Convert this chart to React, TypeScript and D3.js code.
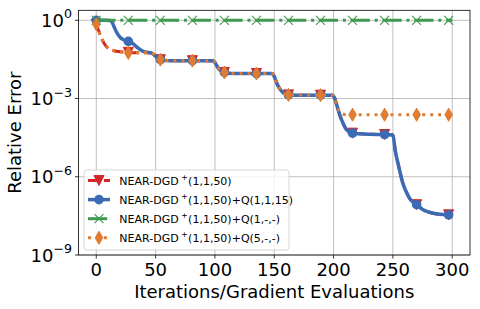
import React, { useEffect, useRef } from 'react';
import * as d3 from 'd3';

// shared x grid (iterations / gradient evaluations)
const iterations = [
  0, 2, 5, 8, 11, 13, 15, 17, 20, 23, 27, 31, 35, 40, 45, 47, 49, 51, 54, 58,
  65, 81, 98, 100, 102, 104, 108, 115, 135, 148, 150, 152, 155, 158, 162, 175,
  189, 199, 201, 203, 205, 208, 211, 216, 230, 243, 250, 252, 255, 258, 261,
  264, 267, 270, 275, 280, 285, 290, 297, 300,
];

const markerIters = [0, 27, 54, 81, 108, 135, 162, 189, 216, 243, 270, 297];

const nearBase = [
  0.708, 0.398, 0.178, 0.105, 0.0794, 0.0724, 0.0676, 0.0646, 0.0617, 0.0603,
  0.0589, 0.0575, 0.0575, 0.0575, 0.0575, 0.0537, 0.0457, 0.0372, 0.0309, 0.0288,
  0.0282, 0.0282, 0.0282, 0.024, 0.0166, 0.0126, 0.01, 0.00912, 0.00912, 0.00912,
  0.00708, 0.00398, 0.00224, 0.00158, 0.00138, 0.00135, 0.00135, 0.00135, 1.0e-3,
  5.0e-4, 2.5e-4, 1.12e-4, 6.3e-5, 4.7e-5, 4.27e-5, 4.17e-5, 3.98e-5, 1.0e-5,
  2.4e-6, 6.5e-7, 2.8e-7, 1.5e-7, 1.05e-7, 8.5e-8, 5.6e-8, 4.47e-8, 3.89e-8,
  3.63e-8, 3.47e-8, 3.47e-8,
];

const nearQ1115 = [
  1.0, 1.0, 1.0, 1.0, 0.977, 0.891, 0.562, 0.355, 0.224, 0.178,
  0.155, 0.126, 0.0871, 0.0631, 0.0575, 0.0537, 0.0457, 0.0372, 0.0309, 0.0288,
  0.0282, 0.0282, 0.0282, 0.024, 0.0166, 0.0126, 0.01, 0.00912, 0.00912, 0.00912,
  0.00708, 0.00398, 0.00224, 0.00158, 0.00138, 0.00135, 0.00135, 0.00135, 1.0e-3,
  5.0e-4, 2.5e-4, 1.12e-4, 6.3e-5, 4.7e-5, 4.27e-5, 4.17e-5, 3.98e-5, 1.0e-5,
  2.4e-6, 6.5e-7, 2.8e-7, 1.5e-7, 1.05e-7, 8.5e-8, 5.6e-8, 4.47e-8, 3.89e-8,
  3.63e-8, 3.47e-8, 3.47e-8,
];

const nearQ1 = [
  1.0, 1.0, 1.0, 1.0, 1.0, 1.0, 1.0, 1.0, 1.0, 1.0,
  1.0, 1.0, 1.0, 1.0, 1.0, 1.0, 1.0, 1.0, 1.0, 1.0,
  1.0, 1.0, 1.0, 1.0, 1.0, 1.0, 1.0, 1.0, 1.0, 1.0,
  1.0, 1.0, 1.0, 1.0, 1.0, 1.0, 1.0, 1.0, 1.0, 1.0,
  1.0, 1.0, 1.0, 1.0, 1.0, 1.0, 1.0, 1.0, 1.0, 1.0,
  1.0, 1.0, 1.0, 1.0, 1.0, 1.0, 1.0, 1.0, 1.0, 1.0,
];

const nearQ5 = [
  0.708, 0.398, 0.178, 0.105, 0.0794, 0.0724, 0.0676, 0.0646, 0.0617, 0.0603,
  0.0562, 0.0575, 0.0575, 0.0575, 0.0575, 0.0537, 0.0457, 0.0372, 0.0309, 0.0288,
  0.0282, 0.0282, 0.0282, 0.024, 0.0166, 0.0126, 0.01, 0.00912, 0.00912, 0.00912,
  0.00708, 0.00398, 0.00224, 0.00158, 0.00138, 0.00135, 0.00135, 0.00135, 1.0e-3,
  5.0e-4, 3.16e-4, 2.5e-4, 2.4e-4, 2.4e-4, 2.4e-4, 2.4e-4, 2.4e-4, 2.4e-4,
  2.4e-4, 2.4e-4, 2.4e-4, 2.4e-4, 2.4e-4, 2.4e-4, 2.4e-4, 2.4e-4, 2.4e-4,
  2.4e-4, 2.4e-4, 2.4e-4,
];

const legendLabels = ['(1,1,50)', '(1,1,50)+Q(1,1,15)', '(1,1,50)+Q(1,-,-)', '(1,1,50)+Q(5,-,-)'];
const xTicks = [0, 50, 100, 150, 200, 250, 300];
const yTickExps = [0, -3, -6, -9];

const series = [
  { values: nearBase, color: '#d62728', dash: '11.1,4.8', width: 3, marker: 'v' },
  { values: nearQ1115, color: '#3a6bb4', dash: null, width: 3.5, marker: 'o' },
  { values: nearQ1, color: '#3e9a4e', dash: '19.2,4.8,3,4.8', width: 3, marker: 'x' },
  { values: nearQ5, color: '#e07b2f', dash: '3,4.95', width: 3, marker: 'd' },
];

const W = 480;
const H = 309;
const FONT = 'DejaVu Sans, sans-serif';

function drawMarker(g, kind, cx, cy, color) {
  if (kind === 'o') {
    g.append('circle').attr('cx', cx).attr('cy', cy).attr('r', 4.8).attr('fill', color);
  } else if (kind === 'v') {
    const s = 5;
    g.append('path')
      .attr('d', `M${cx - s},${cy - s}L${cx + s},${cy - s}L${cx},${cy + s}Z`)
      .attr('fill', color).attr('stroke', color).attr('stroke-width', 1);
  } else if (kind === 'd') {
    const hw = 3.8, hh = 6.5;
    g.append('path')
      .attr('d', `M${cx},${cy - hh}L${cx + hw},${cy}L${cx},${cy + hh}L${cx - hw},${cy}Z`)
      .attr('fill', color).attr('stroke', color).attr('stroke-width', 1);
  } else {
    const s = 4.5;
    g.append('path')
      .attr('d', `M${cx - s},${cy - s}L${cx + s},${cy + s}M${cx - s},${cy + s}L${cx + s},${cy - s}`)
      .attr('fill', 'none').attr('stroke', color).attr('stroke-width', 1.1);
  }
}

export default function App() {
  const ref = useRef(null);

  useEffect(() => {
    const svg = d3.select(ref.current);
    svg.selectAll('*').remove();

    const left = 78.5, right = 470, top = 10.3, bottom = 255;

    const x = d3.scaleLinear().domain([-15, 315]).range([left, right]);
    const y = d3.scaleLog().domain([1e-9, 2.415]).range([bottom, top]);

    svg.append('rect').attr('width', W).attr('height', H).attr('fill', '#fff');

    // grid
    const grid = svg.append('g').attr('stroke', '#b0b0b0').attr('stroke-width', 0.8);
    xTicks.forEach(t => {
      grid.append('line').attr('x1', x(t)).attr('x2', x(t)).attr('y1', top).attr('y2', bottom);
    });
    yTickExps.forEach(e => {
      grid.append('line').attr('x1', left).attr('x2', right).attr('y1', y(10 ** e)).attr('y2', y(10 ** e));
    });

    const plot = svg.append('g');

    const line = d3.line()
      .x(d => x(d[0]))
      .y(d => y(d[1]))
      .curve(d3.curveMonotoneX);

    series.forEach(s => {
      const pts = iterations.map((it, i) => [it, s.values[i]]);
      const g = plot.append('g');
      g.append('path')
        .datum(pts)
        .attr('fill', 'none')
        .attr('stroke', s.color)
        .attr('stroke-width', s.width)
        .attr('stroke-dasharray', s.dash)
        .attr('stroke-linejoin', 'round')
        .attr('d', line);
      pts.filter(p => markerIters.includes(p[0])).forEach(p => {
        drawMarker(g, s.marker, x(p[0]), y(p[1]), s.color);
      });
    });

    // spines
    svg.append('rect')
      .attr('x', left).attr('y', top).attr('width', right - left).attr('height', bottom - top)
      .attr('fill', 'none').attr('stroke', '#000').attr('stroke-width', 0.8);

    // x ticks
    xTicks.forEach(t => {
      svg.append('line').attr('x1', x(t)).attr('x2', x(t)).attr('y1', bottom).attr('y2', bottom + 3.5)
        .attr('stroke', '#000').attr('stroke-width', 0.8);
      svg.append('text').attr('x', x(t)).attr('y', 276)
        .attr('text-anchor', 'middle').attr('font-family', FONT).attr('font-size', 18).attr('fill', '#000')
        .text(t);
    });

    // y ticks
    yTickExps.forEach(e => {
      const ty = y(10 ** e);
      svg.append('line').attr('x1', left - 3.5).attr('x2', left).attr('y1', ty).attr('y2', ty)
        .attr('stroke', '#000').attr('stroke-width', 0.8);
      const txt = svg.append('text').attr('x', 72).attr('y', ty + 6.5)
        .attr('text-anchor', 'end').attr('font-family', FONT).attr('font-size', 18).attr('fill', '#000');
      txt.append('tspan').text('10');
      txt.append('tspan').attr('dy', -8.5).attr('font-size', 12.6)
        .text(e === 0 ? '0' : `\u2212${-e}`);
    });

    // axis labels
    svg.append('text').attr('x', (left + right) / 2).attr('y', 298)
      .attr('text-anchor', 'middle').attr('font-family', FONT).attr('font-size', 18).attr('fill', '#000')
      .text('Iterations/Gradient Evaluations');
    svg.append('text')
      .attr('transform', `translate(21,${(top + bottom) / 2}) rotate(-90)`)
      .attr('text-anchor', 'middle').attr('font-family', FONT).attr('font-size', 18).attr('fill', '#000')
      .text('Relative Error');

    // legend
    const lg = svg.append('g');
    lg.append('rect').attr('x', 84).attr('y', 170).attr('width', 205).attr('height', 80).attr('rx', 3)
      .attr('fill', '#fff').attr('fill-opacity', 0.8).attr('stroke', '#cccccc').attr('stroke-width', 0.8);
    series.forEach((s, i) => {
      const ly = 180.5 + i * 19.1;
      lg.append('line').attr('x1', 88).attr('x2', 110).attr('y1', ly).attr('y2', ly)
        .attr('stroke', s.color).attr('stroke-width', s.width).attr('stroke-dasharray', s.dash);
      drawMarker(lg, s.marker, 99, ly, s.color);
      const t = lg.append('text').attr('x', 119.3).attr('y', ly + 4)
        .attr('font-family', FONT).attr('font-size', 11).attr('fill', '#000');
      t.append('tspan').text('NEAR-DGD');
      t.append('tspan').attr('dx', 2.5).attr('dy', -4.8).attr('font-size', 7.7).text('+');
      t.append('tspan').attr('dx', 0.5).attr('dy', 4.8).text(legendLabels[i]);
    });
  }, []);

  return (
    <svg ref={ref} width={W} height={H} style={{ position: 'absolute', left: 0, top: 0 }} />
  );
}
